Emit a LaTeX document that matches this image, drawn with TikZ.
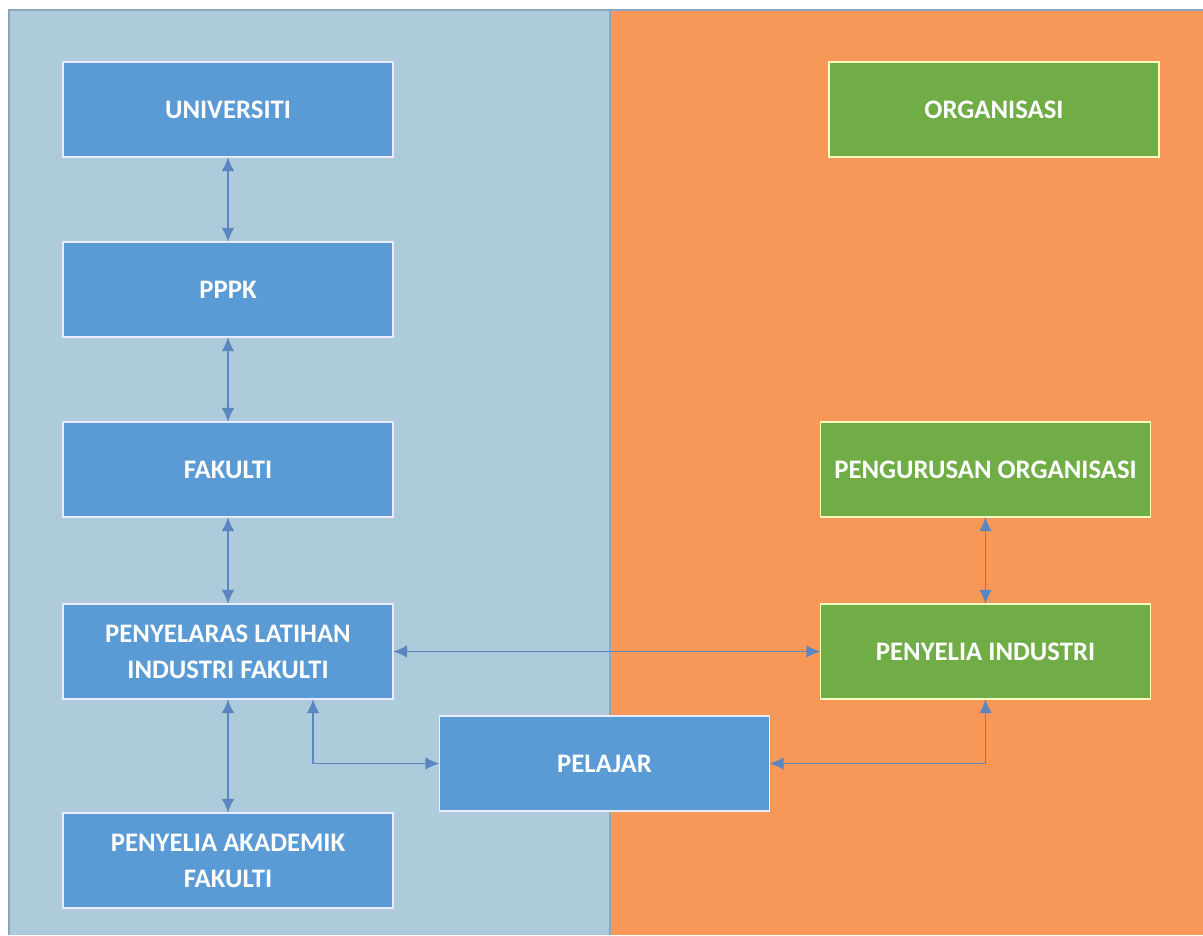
\documentclass[tikz,border=0pt]{standalone}
\usepackage{fontspec}
\setmainfont{Carlito}
\usetikzlibrary{arrows.meta}

\definecolor{panelblue}{HTML}{AECBDC}
\definecolor{panelorange}{HTML}{F89858}
\definecolor{boxblue}{HTML}{5B9BD5}
\definecolor{boxgreen}{HTML}{70AD47}
\definecolor{linkblue}{HTML}{5A87C0}
\definecolor{edgegrey}{HTML}{8EA6BC}

\tikzset{
  unitbox/.style={rectangle, minimum width=8.25cm, minimum height=2.375cm,
    inner sep=0pt, outer sep=0pt, line width=0.9pt, align=center,
    text=white, font=\fontsize{19}{25.5}\selectfont\bfseries},
  bluebox/.style={unitbox, fill=boxblue, draw=blue!8},
  greenbox/.style={unitbox, fill=boxgreen, draw=yellow!25},
  link/.style={draw=linkblue, line width=1.4pt, {Latex[length=10pt,width=9pt]}-{Latex[length=10pt,width=9pt]}}
}

\begin{document}
\begin{tikzpicture}[x=0.025cm, y=-0.025cm]
          \useasboundingbox (0,0) rectangle (1203,935);
          \fill[white] (0,0) rectangle (1203,935);

          % two panels
          \fill[panelblue] (9,10) rectangle (610,935);
          \fill[panelorange] (610,10) rectangle (1203,935);
          \draw[edgegrey, line width=1pt] (9,935) -- (9,10) -- (1203,10);
          \draw[edgegrey, line width=1.2pt] (610,10) -- (610,935);

          % left side
          \node[bluebox] (uni) at (228,109.5) {UNIVERSITI};
          \node[bluebox] (pppk) at (228,289.5) {PPPK};
          \node[bluebox] (fak) at (228,469.5) {FAKULTI};
          \node[bluebox] (pli) at (228,651.5) {PENYELARAS LATIHAN\\INDUSTRI FAKULTI};
          \node[bluebox] (pak) at (228,860.5) {PENYELIA AKADEMIK\\FAKULTI};
          \node[bluebox] (pel) at (604.5,763.5) {PELAJAR};

          % right side
          \node[greenbox] (org) at (994,109.5) {ORGANISASI};
          \node[greenbox] (pengorg) at (985.5,469.5) {PENGURUSAN ORGANISASI};
          \node[greenbox] (pind) at (985.5,651.5) {PENYELIA INDUSTRI};

          \foreach \a/\b in {uni/pppk, pppk/fak, fak/pli, pli/pak, pengorg/pind}{
            \draw[link] (\a.south) -- (\b.north);
          }
          \draw[link] (pli.east) -- (pind.west);
          \draw[link] ([xshift=2.125cm]pli.south) |- (pel.west);
          \draw[link] (pel.east) -| (pind.south);
        \end{tikzpicture}
\end{document}
